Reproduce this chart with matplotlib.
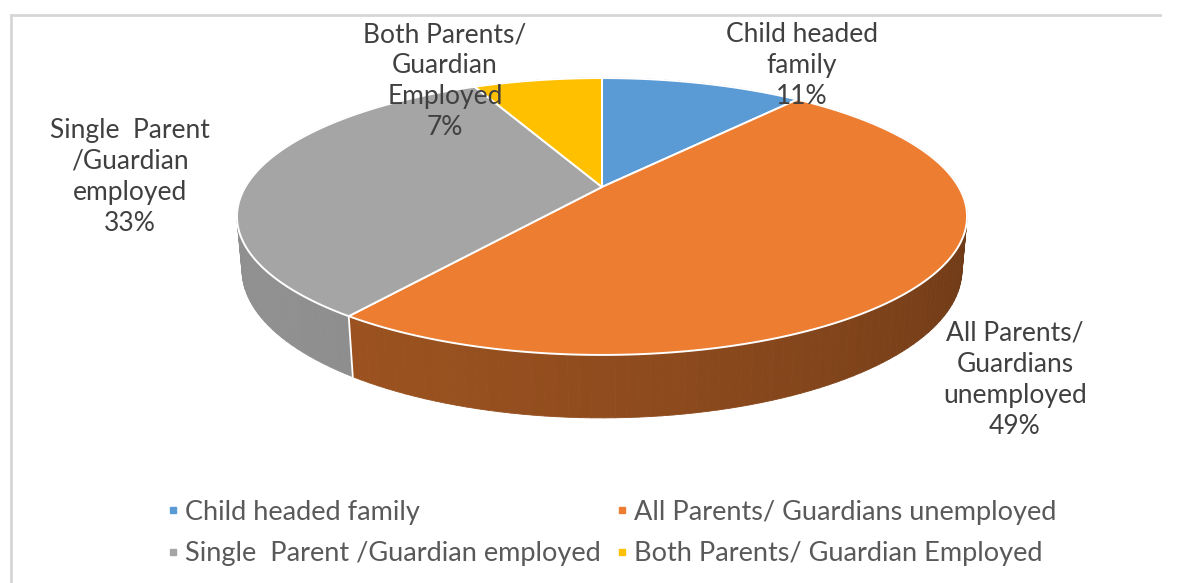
import numpy as np
import matplotlib
matplotlib.use("Agg")
import matplotlib.pyplot as plt
from matplotlib.collections import PolyCollection
from matplotlib.patches import Polygon
from matplotlib.lines import Line2D

# ---------------- data ----------------
categories = ["Child headed family",
              "All Parents/ Guardians unemployed",
              "Single  Parent /Guardian employed",
              "Both Parents/ Guardian Employed"]
values = [11, 49, 33, 7]
label_texts = ["Child headed\nfamily",
               "All Parents/\nGuardians\nunemployed",
               "Single  Parent\n/Guardian\nemployed",
               "Both Parents/\nGuardian\nEmployed"]

# ---------------- style ----------------
colors = ["#5B9BD5", "#ED7D31", "#A5A5A5", "#FFC000"]
wall_shade = [0.70, 0.64, 0.84, 0.75]
label_pos = [(802, 66), (1015, 380), (130, 177), (445, 81)]   # figure pixels (centre of label block)
FONT = "Lato"
TXT = "#404040"
FS = 19

W, H = 1181, 583
fig = plt.figure(figsize=(W / 100, H / 100), dpi=100)
ax = fig.add_axes([0, 0, 1, 1])
ax.set_xlim(0, W)
ax.set_ylim(H, 0)
ax.axis("off")

# ---------------- perspective camera for the 3D pie ----------------
F, D = 1555.0, 4.36
phi = np.deg2rad(21.75)
s, c = np.sin(phi), np.cos(phi)
thick = 0.159
cx, cy = 602.0, 187.0


def proj(theta, r, zz):
    x = r * np.sin(theta)
    yd = r * np.cos(theta)
    up = yd * s + zz * c
    depth = D + yd * c - zz * s
    return cx + F * x / depth, cy - F * up / depth, depth


def darken(col, f):
    rgb = np.array(matplotlib.colors.to_rgb(col))
    return tuple(np.clip(rgb * f, 0, 1))


vals = np.array(values, dtype=float)
bounds = np.concatenate([[0.0], np.cumsum(vals / vals.sum())]) * 2 * np.pi

# side walls (drawn back to front)
strips, strip_cols, strip_depth = [], [], []
for i in range(len(vals)):
    t1, t2 = bounds[i], bounds[i + 1]
    n = max(4, int(np.degrees(t2 - t1) / 1.5))
    ts = np.linspace(t1, t2, n + 1)
    for a, b in zip(ts[:-1], ts[1:]):
        xa, ya, da = proj(a, 1, 0)
        xb, yb, db = proj(b, 1, 0)
        xa2, ya2, _ = proj(a, 1, -thick)
        xb2, yb2, _ = proj(b, 1, -thick)
        m = 0.5 * (a + b)
        f = wall_shade[i] * (0.86 + 0.18 * np.cos(m - np.deg2rad(240)))
        strips.append([(xa, ya), (xb, yb), (xb2, yb2), (xa2, ya2)])
        strip_cols.append(darken(colors[i], f))
        strip_depth.append(0.5 * (da + db))
order = np.argsort(strip_depth)[::-1]
pc = PolyCollection([strips[k] for k in order],
                    facecolors=[strip_cols[k] for k in order],
                    edgecolors=[strip_cols[k] for k in order],
                    linewidths=0.6, zorder=2)
ax.add_collection(pc)

# white seam on the visible wall boundaries
for t in bounds[:-1]:
    x0, y0, d0 = proj(t, 1, 0)
    x1, y1, _ = proj(t, 1, -thick)
    if np.cos(t) < -0.2:
        ax.plot([x0, x1], [y0, y1], color="white", lw=1.3, zorder=3)

# top faces
for i in range(len(vals)):
    t1, t2 = bounds[i], bounds[i + 1]
    ts = np.linspace(t1, t2, 200)
    xs, ys, _ = proj(ts, 1, 0)
    ax0, ay0, _ = proj(0.0, 0, 0)
    pts = [(ax0, ay0)] + list(zip(xs, ys))
    ax.add_patch(Polygon(pts, closed=True, facecolor=colors[i],
                         edgecolor="white", lw=1.4, joinstyle="round", zorder=4))

# data labels
for i in range(len(vals)):
    px, py = label_pos[i]
    ax.text(px, py, f"{label_texts[i]}\n{values[i]:g}%", ha="center", va="center",
            fontsize=FS, family=FONT, color=TXT, linespacing=1.3, zorder=6)

# chart border
ax.plot([11, 1160], [15, 15], color="#d6d6d6", lw=2, zorder=1)
ax.plot([11, 11], [15, H], color="#d6d6d6", lw=2, zorder=1)

# legend (column-wise fill -> order for two rows)
leg_order = [0, 2, 1, 3]
handles = [Line2D([], [], marker="s", ls="", color=colors[k], markersize=5) for k in leg_order]
labels = [categories[k] for k in leg_order]
leg = fig.legend(handles, labels, ncol=2, loc="center",
                 bbox_to_anchor=(612 / W, 1 - 533 / H), frameon=False,
                 prop={"family": FONT, "size": 19.5}, labelcolor="#595959",
                 handlelength=0.4, handletextpad=0.25, columnspacing=0.55,
                 labelspacing=0.62)

fig.savefig("out.png", dpi=100, facecolor="white")
